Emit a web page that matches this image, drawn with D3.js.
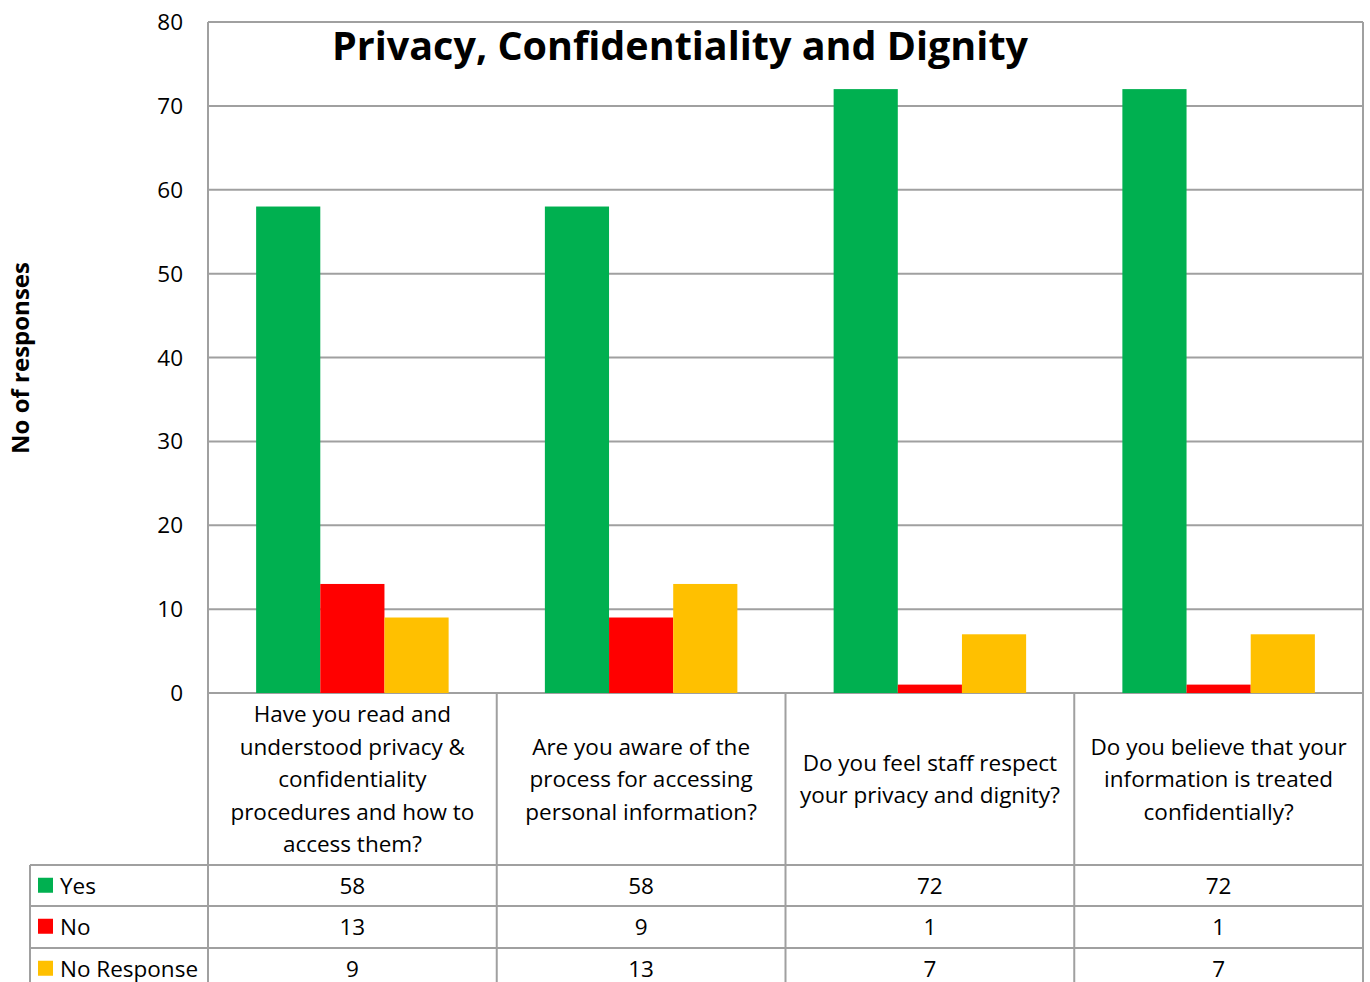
<!DOCTYPE html>
<html><head><meta charset="utf-8">
<script src="https://cdn.jsdelivr.net/npm/d3@7"></script>
<style>body{margin:0;background:#fff}svg{display:block}text{font-family:"Open Sans",Lato,sans-serif;fill:#000}</style>
</head><body><svg id="c" width="1370" height="982"></svg>
<script>
const categories = [
  ["Have you read and","understood privacy &","confidentiality","procedures and how to","access them?"],
  ["Are you aware of the","process for accessing","personal information?"],
  ["Do you feel staff respect","your privacy and dignity?"],
  ["Do you believe that your","information is treated","confidentially?"]
];
const seriesNames = ["Yes","No","No Response"];
const yesValues = [58,58,72,72];
const noValues = [13,9,1,1];
const noResponseValues = [9,13,7,7];
const colors = ["#00b050","#ff0000","#ffc000"];
const yTicks = [0,10,20,30,40,50,60,70,80];
const series = [yesValues,noValues,noResponseValues];

const svg = d3.select("#c");
const L=208,R=1363,T=22,B=693;
const grid="#a0a0a0";
const fs="22.5px";
const y = d3.scaleLinear().domain([0,80]).range([B,T]);
const x0 = d3.scaleBand().domain(d3.range(categories.length)).range([L,R]).paddingInner(0).paddingOuter(0);
const x1 = d3.scaleBand().domain(d3.range(series.length)).range([0,x0.bandwidth()]).paddingInner(0).paddingOuter(0.75);

// gridlines
svg.append("g").selectAll("line").data(yTicks).join("line")
  .attr("x1",L).attr("x2",R).attr("y1",d=>y(d)).attr("y2",d=>y(d))
  .attr("stroke",grid).attr("stroke-width",2);
svg.append("line").attr("x1",L).attr("x2",L).attr("y1",T).attr("y2",B).attr("stroke",grid).attr("stroke-width",2);
svg.append("line").attr("x1",R).attr("x2",R).attr("y1",T).attr("y2",B).attr("stroke",grid).attr("stroke-width",2);

// y tick labels
svg.append("g").selectAll("text").data(yTicks).join("text")
  .attr("x",183).attr("y",d=>y(d)+8).attr("text-anchor","end")
  .style("font-size",fs).text(d=>d);

// bars
series.forEach((vals,si)=>{
  svg.append("g").selectAll("rect").data(vals).join("rect")
    .attr("x",(d,i)=>x0(i)+x1(si)).attr("width",x1.bandwidth())
    .attr("y",d=>y(d)).attr("height",d=>B-y(d)).attr("fill",colors[si]);
});

// category / table lines
const rowH=41.5;
const rowY=[865,906,948,989];
svg.append("g").selectAll("line").data(d3.range(categories.length+1)).join("line")
  .attr("x1",i=>L+i*x0.bandwidth()).attr("x2",i=>L+i*x0.bandwidth())
  .attr("y1",B).attr("y2",982).attr("stroke",grid).attr("stroke-width",2);
svg.append("line").attr("x1",30).attr("x2",30).attr("y1",865).attr("y2",982).attr("stroke",grid).attr("stroke-width",2);
svg.append("g").selectAll("line").data(rowY.slice(0,3)).join("line")
  .attr("x1",30).attr("x2",R).attr("y1",d=>d).attr("y2",d=>d).attr("stroke",grid).attr("stroke-width",2);

// category labels
categories.forEach((lines,i)=>{
  const cx=x0(i)+x0.bandwidth()/2, lh=32.5, cy=779;
  const t=svg.append("text").attr("text-anchor","middle").style("font-size",fs);
  lines.forEach((ln,j)=>{
    t.append("tspan").attr("x",cx).attr("y",cy+(j-(lines.length-1)/2)*lh+8).text(ln);
  });
});

// table rows
series.forEach((vals,si)=>{
  const ry=rowY[si]+rowH/2;
  svg.append("rect").attr("x",38).attr("y",ry-8).attr("width",15).attr("height",15).attr("fill",colors[si]);
  svg.append("text").attr("x",60).attr("y",ry+8).style("font-size",fs).text(seriesNames[si]);
  svg.append("g").selectAll("text").data(vals).join("text")
    .attr("x",(d,i)=>x0(i)+x0.bandwidth()/2).attr("y",ry+8).attr("text-anchor","middle")
    .style("font-size",fs).text(d=>d);
});

// title
svg.append("text").attr("x",680).attr("y",60).attr("text-anchor","middle")
  .style("font-size","39.5px").style("font-weight","bold").text("Privacy, Confidentiality and Dignity");
// y axis title
svg.append("text").attr("transform","translate(29,358) rotate(-90)").attr("text-anchor","middle")
  .style("font-size","24px").style("font-weight","bold").text("No of responses");
</script></body></html>
